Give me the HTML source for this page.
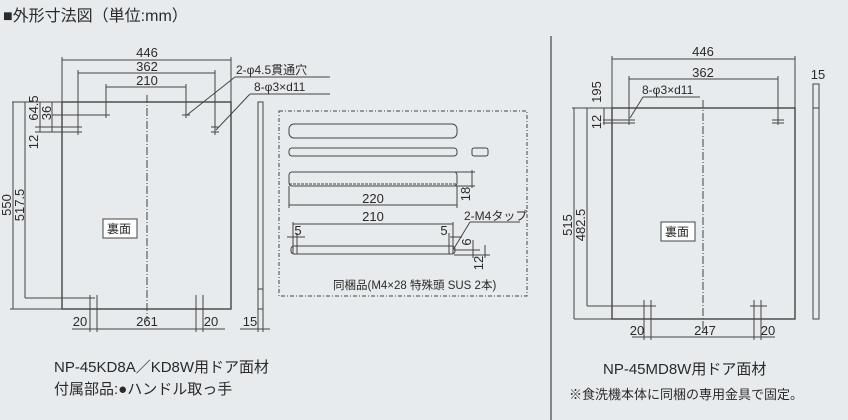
<!DOCTYPE html>
<html><head><meta charset="utf-8"><style>
html,body{margin:0;padding:0;background:#e8ebed}
svg{display:block}
text{font-family:"Liberation Sans","Noto Sans CJK JP",sans-serif;fill:#2a2a2a}
</style></head><body>
<svg width="848" height="420" viewBox="0 0 848 420" xmlns="http://www.w3.org/2000/svg">
<rect width="848" height="420" fill="#e8ebed"/>
<text x="3" y="21" font-size="16">■外形寸法図（単位:mm）</text>
<g stroke="#444" stroke-width="1" fill="none">
<rect x="62" y="102" width="169" height="207" stroke-width="1.4"/>
<line x1="147" y1="95" x2="147" y2="320" stroke-dasharray="8,2,1,2"/>
<rect x="258" y="102" width="5" height="207"/>
<line x1="258" y1="289" x2="263" y2="289"/>
<line x1="62" y1="60" x2="231" y2="60"/><line x1="62" y1="57" x2="62" y2="102"/><line x1="231" y1="57" x2="231" y2="102"/>
<line x1="78" y1="73" x2="215" y2="73"/><line x1="78" y1="70" x2="78" y2="135"/><line x1="215" y1="70" x2="215" y2="135"/>
<line x1="106" y1="87" x2="186" y2="87"/><line x1="106" y1="84" x2="106" y2="118"/><line x1="186" y1="84" x2="186" y2="118"/>
<line x1="52" y1="115" x2="110" y2="115"/><line x1="182" y1="115" x2="190" y2="115"/>
<line x1="35" y1="127" x2="82" y2="127"/><line x1="35" y1="132" x2="82" y2="132"/>
<line x1="211" y1="127" x2="219" y2="127"/><line x1="211" y1="132" x2="219" y2="132"/>
<line x1="187" y1="115" x2="235" y2="77"/><line x1="235" y1="77" x2="330" y2="77"/>
<line x1="216" y1="130" x2="250" y2="94"/><line x1="250" y1="94" x2="330" y2="94"/>
<line x1="12" y1="102" x2="62" y2="102"/>
<line x1="13" y1="102" x2="13" y2="309"/><line x1="10" y1="309" x2="62" y2="309"/>
<line x1="25" y1="102" x2="25" y2="298"/><line x1="25" y1="298" x2="95" y2="298"/>
<line x1="52" y1="102" x2="52" y2="132"/><line x1="40" y1="102" x2="40" y2="132"/>
<line x1="90" y1="295" x2="90" y2="332"/><line x1="97" y1="295" x2="97" y2="332"/>
<line x1="196" y1="295" x2="196" y2="332"/><line x1="203" y1="295" x2="203" y2="332"/>
<line x1="72" y1="329" x2="225" y2="329"/>
<line x1="258" y1="309" x2="258" y2="332"/><line x1="263" y1="309" x2="263" y2="332"/>
<line x1="240" y1="329" x2="270" y2="329"/>
<rect x="279" y="111" width="248" height="185" stroke-dasharray="4,2,1,2"/>
<rect x="289" y="124" width="168" height="14" rx="5"/>
<rect x="289" y="148" width="168" height="8" rx="3"/>
<rect x="472" y="148" width="16" height="8" rx="2"/>
<rect x="289" y="172" width="168" height="14" rx="3"/>
<line x1="289" y1="184" x2="457" y2="184" stroke-dasharray="3,1"/>
<line x1="289" y1="186" x2="289" y2="208"/><line x1="457" y1="186" x2="457" y2="208"/>
<line x1="289" y1="205" x2="457" y2="205"/>
<line x1="455" y1="172" x2="475" y2="172"/><line x1="455" y1="186" x2="475" y2="186"/><line x1="472" y1="170" x2="472" y2="188"/>
<rect x="291" y="246" width="164" height="8" rx="3"/>
<line x1="293" y1="222" x2="293" y2="254"/><line x1="453" y1="222" x2="453" y2="254"/>
<line x1="293" y1="224" x2="453" y2="224"/>
<line x1="287" y1="237" x2="305" y2="237"/><line x1="450" y1="237" x2="462" y2="237"/>
<line x1="297" y1="233" x2="297" y2="254"/><line x1="449" y1="233" x2="449" y2="254"/>
<line x1="454" y1="250" x2="480" y2="250"/><line x1="454" y1="255" x2="490" y2="255"/>
<line x1="473" y1="240" x2="473" y2="258"/><line x1="485" y1="245" x2="485" y2="258"/>
<line x1="453" y1="250" x2="470" y2="222"/><line x1="470" y1="222" x2="520" y2="222"/>
<line x1="551" y1="36" x2="551" y2="420" stroke-width="1.2"/>
<rect x="612" y="108" width="183" height="211" stroke-width="1.4"/>
<line x1="703" y1="100" x2="703" y2="330" stroke-dasharray="8,2,1,2"/>
<rect x="813" y="84" width="6" height="235"/>
<line x1="813" y1="108" x2="819" y2="108"/>
<line x1="612" y1="59" x2="795" y2="59"/><line x1="612" y1="56" x2="612" y2="108"/><line x1="795" y1="56" x2="795" y2="108"/>
<line x1="629" y1="79" x2="778" y2="79"/><line x1="629" y1="76" x2="629" y2="125"/><line x1="778" y1="76" x2="778" y2="125"/>
<line x1="603" y1="120" x2="635" y2="120"/><line x1="603" y1="123" x2="635" y2="123"/>
<line x1="772" y1="120" x2="784" y2="120"/><line x1="772" y1="123" x2="784" y2="123"/>
<line x1="630" y1="118" x2="643" y2="97"/><line x1="643" y1="97" x2="700" y2="97"/>
<line x1="604" y1="108" x2="604" y2="125"/>
<line x1="572" y1="108" x2="612" y2="108"/>
<line x1="574" y1="108" x2="574" y2="319"/><line x1="574" y1="319" x2="612" y2="319"/>
<line x1="587" y1="108" x2="587" y2="306"/><line x1="587" y1="306" x2="656" y2="306"/>
<line x1="750" y1="306" x2="767" y2="306"/>
<line x1="644" y1="300" x2="644" y2="340"/><line x1="651" y1="300" x2="651" y2="340"/>
<line x1="754" y1="300" x2="754" y2="340"/><line x1="761" y1="300" x2="761" y2="340"/>
<line x1="632" y1="337" x2="775" y2="337"/>
</g>
<g fill="#fff" stroke="#444" stroke-width="1">
<rect x="103" y="219" width="34" height="19"/>
<rect x="661" y="222" width="34" height="19"/>
</g>
<g font-size="13" text-anchor="middle">
<text x="147" y="57">446</text><text x="147" y="71">362</text><text x="147" y="85">210</text>
<text x="80" y="326">20</text><text x="147" y="326">261</text><text x="211" y="326">20</text><text x="250" y="326">15</text>
<text x="373" y="203">220</text><text x="373" y="221">210</text>
<text x="298" y="235">5</text><text x="444" y="235">5</text>
<text x="703" y="56">446</text><text x="703" y="77">362</text><text x="818" y="79">15</text>
<text x="637" y="335">20</text><text x="705" y="335">247</text><text x="768" y="335">20</text>
</g>
<g font-size="12">
<text x="236" y="74">2-φ4.5貫通穴</text>
<text x="254" y="91">8-φ3×d11</text>
<text x="642" y="94">8-φ3×d11</text>
<text x="464" y="220">2-M4タップ</text>
<text x="333" y="289" font-size="11.5">同梱品(M4×28 特殊頭 SUS 2本)</text>
<text x="107" y="233" font-size="12">裏面</text>
<text x="665" y="236" font-size="12">裏面</text>
</g>
<g font-size="13" text-anchor="middle">
<text transform="translate(11,205) rotate(-90)">550</text>
<text transform="translate(24,205) rotate(-90)">517.5</text>
<text transform="translate(38,108) rotate(-90)">64.5</text>
<text transform="translate(51,113) rotate(-90)">36</text>
<text transform="translate(38,142) rotate(-90)">12</text>
<text transform="translate(470,194) rotate(-90)">18</text>
<text transform="translate(471,242) rotate(-90)">6</text>
<text transform="translate(483,263) rotate(-90)">12</text>
<text transform="translate(572,225) rotate(-90)">515</text>
<text transform="translate(585,225) rotate(-90)">482.5</text>
<text transform="translate(601,92) rotate(-90)">195</text>
<text transform="translate(601,122) rotate(-90)">12</text>
</g>
<text x="54" y="372" font-size="15">NP-45KD8A／KD8W用ドア面材</text>
<text x="54" y="394" font-size="15">付属部品:●ハンドル取っ手</text>
<text x="603" y="374" font-size="15">NP-45MD8W用ドア面材</text>
<text x="569" y="399" font-size="13">※食洗機本体に同梱の専用金具で固定。</text>
</svg>
</body></html>
